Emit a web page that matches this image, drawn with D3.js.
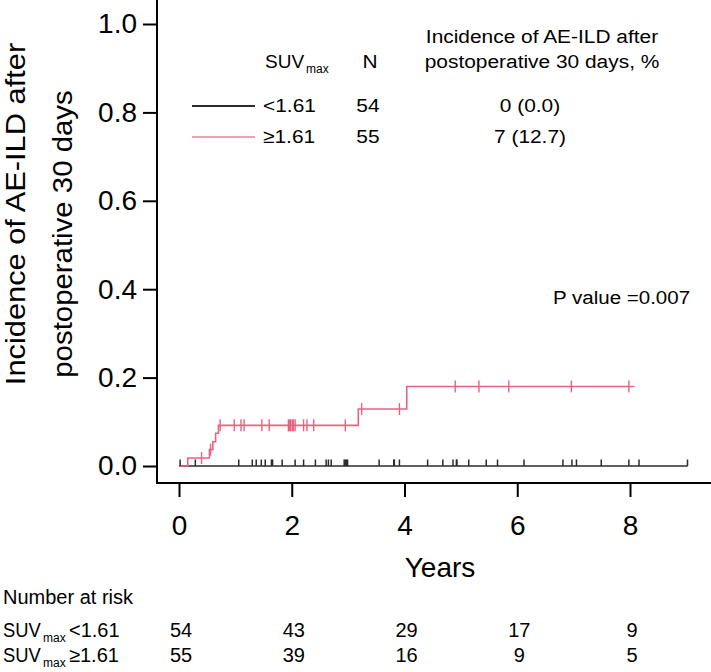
<!DOCTYPE html>
<html><head><meta charset="utf-8">
<script src="https://cdn.jsdelivr.net/npm/d3@7"></script>
<style>
html,body{margin:0;padding:0;background:#fff;}
svg{display:block;}
text{font-family:"Liberation Sans",Arial,Helvetica,sans-serif;fill:#000;}
</style>
</head><body>
<svg id="c" width="711" height="672"></svg>
<script>
// ---------- data ----------
const xTicks = [0, 2, 4, 6, 8];
const yTicks = [0, 0.2, 0.4, 0.6, 0.8, 1.0];
const groups = ["<1.61", "≥1.61"];
const groupN = [54, 55];
const groupIncidence = ["0 (0.0)", "7 (12.7)"];
const lowEventTimes = [0];
const lowEventInc = [0];
const lowEnd = 9.02;
const highEventTimes = [0, 0.155, 0.54, 0.60, 0.65, 0.70, 3.18, 4.04];
const highEventInc = [0, 0.018, 0.037, 0.055, 0.074, 0.092, 0.129, 0.180];
const highEnd = 8.08;
const lowCensor = [0.02, 0.29, 1.06, 1.30, 1.37, 1.46, 1.53, 1.64, 1.66, 1.83, 2.06, 2.21, 2.42, 2.61, 2.65, 2.70,
  2.93, 2.95, 2.97, 2.99, 3.55, 3.81, 3.82, 3.91, 4.41, 4.68, 4.86, 4.92, 4.93, 5.14, 5.45, 5.65, 6.12,
  6.81, 6.97, 7.05, 7.49, 7.98, 8.16, 9.02];
const highCensor = [0.40, 0.56, 0.73, 0.98, 1.10, 1.155, 1.47, 1.60, 1.94, 1.96, 1.98, 2.01, 2.03, 2.06,
  2.21, 2.27, 2.39, 2.95, 3.24, 3.91, 4.90, 5.32, 5.85, 6.96, 7.98];
const riskTimes = [0, 2, 4, 6, 8];
const riskLow = [54, 43, 29, 17, 9];
const riskHigh = [55, 39, 16, 9, 5];
const pValueText = "P value =0.007";
const yTitle = ["Incidence of AE-ILD after", "postoperative 30 days"];
const xTitle = "Years";
const legendHeader = ["Incidence of AE-ILD after", "postoperative 30 days, %"];

// ---------- setup ----------
const svg = d3.select("#c");
const black = "#2b2b2b", pink = "#e8637f", pinkLegend = "#f3a2b4";
const x = d3.scaleLinear().domain([0, 8]).range([179, 630]);
const y = d3.scaleLinear().domain([0, 1]).range([466, 24]);
const frameX = 157, frameY = 483;

function txt(parent, px, py, s, size, anchor, sx, rot) {
  return parent.append("text")
    .attr("transform", `translate(${px},${py})` + (rot ? ` rotate(${rot})` : "") + ` scale(${sx || 1},1)`)
    .attr("text-anchor", anchor || "start")
    .style("font-size", size + "px")
    .text(s);
}

// frame
svg.append("line").attr("x1", frameX).attr("x2", frameX).attr("y1", 0).attr("y2", frameY)
  .attr("stroke", "#000").attr("stroke-width", 2);
svg.append("line").attr("x1", frameX - 1).attr("x2", 711).attr("y1", frameY).attr("y2", frameY)
  .attr("stroke", "#000").attr("stroke-width", 2);

// axes
const gy = svg.append("g").attr("transform", `translate(${frameX},0)`)
  .call(d3.axisLeft(y).tickValues(yTicks).tickFormat(d3.format(".1f")).tickSize(14).tickPadding(6));
gy.select(".domain").remove();
gy.selectAll(".tick line").attr("stroke", "#000").attr("stroke-width", 2);
gy.selectAll(".tick text").style("font-size", "28px").style("font-family", "'Liberation Sans',Arial,sans-serif").attr("fill", "#000");

const gx = svg.append("g").attr("transform", `translate(0,${frameY})`)
  .call(d3.axisBottom(x).tickValues(xTicks).tickFormat(d3.format("d")).tickSize(14).tickPadding(18));
gx.select(".domain").remove();
gx.selectAll(".tick line").attr("stroke", "#000").attr("stroke-width", 2);
gx.selectAll(".tick text").style("font-size", "28px").style("font-family", "'Liberation Sans',Arial,sans-serif").attr("fill", "#000");

// titles
txt(svg, 25, 214, yTitle[0], 28, "middle", 1.1, -90);
txt(svg, 71.5, 234, yTitle[1], 28, "middle", 1.05, -90);
txt(svg, 440, 577, xTitle, 28, "middle", 1);

// curves
const stepLine = d3.line().x(d => x(d[0])).y(d => y(d[1])).curve(d3.curveStepAfter);
function pts(times, inc, end) {
  const p = times.map((t, i) => [t, inc[i]]);
  p.push([end, inc[inc.length - 1]]);
  return p;
}
function valAt(times, inc, t) {
  let v = inc[0];
  times.forEach((tt, i) => { if (tt <= t) v = inc[i]; });
  return v;
}
svg.append("path").attr("d", stepLine(pts(lowEventTimes, lowEventInc, lowEnd)))
  .attr("fill", "none").attr("stroke", black).attr("stroke-width", 1.5);
svg.append("path").attr("d", stepLine(pts(highEventTimes, highEventInc, highEnd)))
  .attr("fill", "none").attr("stroke", pink).attr("stroke-width", 1.6);

svg.append("g").selectAll("line").data(lowCensor).join("line")
  .attr("x1", d => x(d)).attr("x2", d => x(d))
  .attr("y1", d => y(valAt(lowEventTimes, lowEventInc, d)) - 6.5)
  .attr("y2", d => y(valAt(lowEventTimes, lowEventInc, d)))
  .attr("stroke", black).attr("stroke-width", 1.5);
svg.append("g").selectAll("line").data(highCensor).join("line")
  .attr("x1", d => x(d)).attr("x2", d => x(d))
  .attr("y1", d => y(valAt(highEventTimes, highEventInc, d)) - 6)
  .attr("y2", d => y(valAt(highEventTimes, highEventInc, d)) + 6)
  .attr("stroke", pink).attr("stroke-width", 1.4);

// legend
const lg = svg.append("g");
txt(lg, 265, 68, "SUV", 19, "start", 1.0);
lg.append("text").attr("x", 306).attr("y", 72.5).style("font-size", "12px").text("max");
txt(lg, 370, 68, "N", 19, "middle", 1.1);
txt(lg, 542, 43, legendHeader[0], 19, "middle", 1.1);
txt(lg, 542, 68, legendHeader[1], 19, "middle", 1.1);
const rowY = [106, 137];
const rowColor = [black, pinkLegend];
groups.forEach((g, i) => {
  lg.append("line").attr("x1", 192).attr("x2", 255).attr("y1", rowY[i]).attr("y2", rowY[i])
    .attr("stroke", rowColor[i]).attr("stroke-width", 2.2);
  txt(lg, 263, rowY[i] + 6, g, 19, "start", 1.1);
  txt(lg, 368, rowY[i] + 6, String(groupN[i]), 19, "middle", 1.1);
  txt(lg, 530, rowY[i] + 6, groupIncidence[i], 19, "middle", 1.1);
});

// p value
txt(svg, 553, 304, pValueText, 19, "start", 1.08);

// number at risk
const tg = svg.append("g");
txt(tg, 3, 604, "Number at risk", 20, "start", 1);
const riskRows = [riskLow, riskHigh];
const riskY = [637, 662];
groups.forEach((g, i) => {
  txt(tg, 3, riskY[i], "SUV", 20, "start", 0.92);
  tg.append("text").attr("x", 43).attr("y", riskY[i] + 5).style("font-size", "12px").text("max");
  txt(tg, 69, riskY[i], g, 20, "start", 1);
  tg.selectAll(null).data(riskRows[i]).join("text")
    .attr("x", (d, j) => x(riskTimes[j]) + 2).attr("y", riskY[i])
    .attr("text-anchor", "middle").style("font-size", "20px").text(d => d);
});
</script>
</body></html>
